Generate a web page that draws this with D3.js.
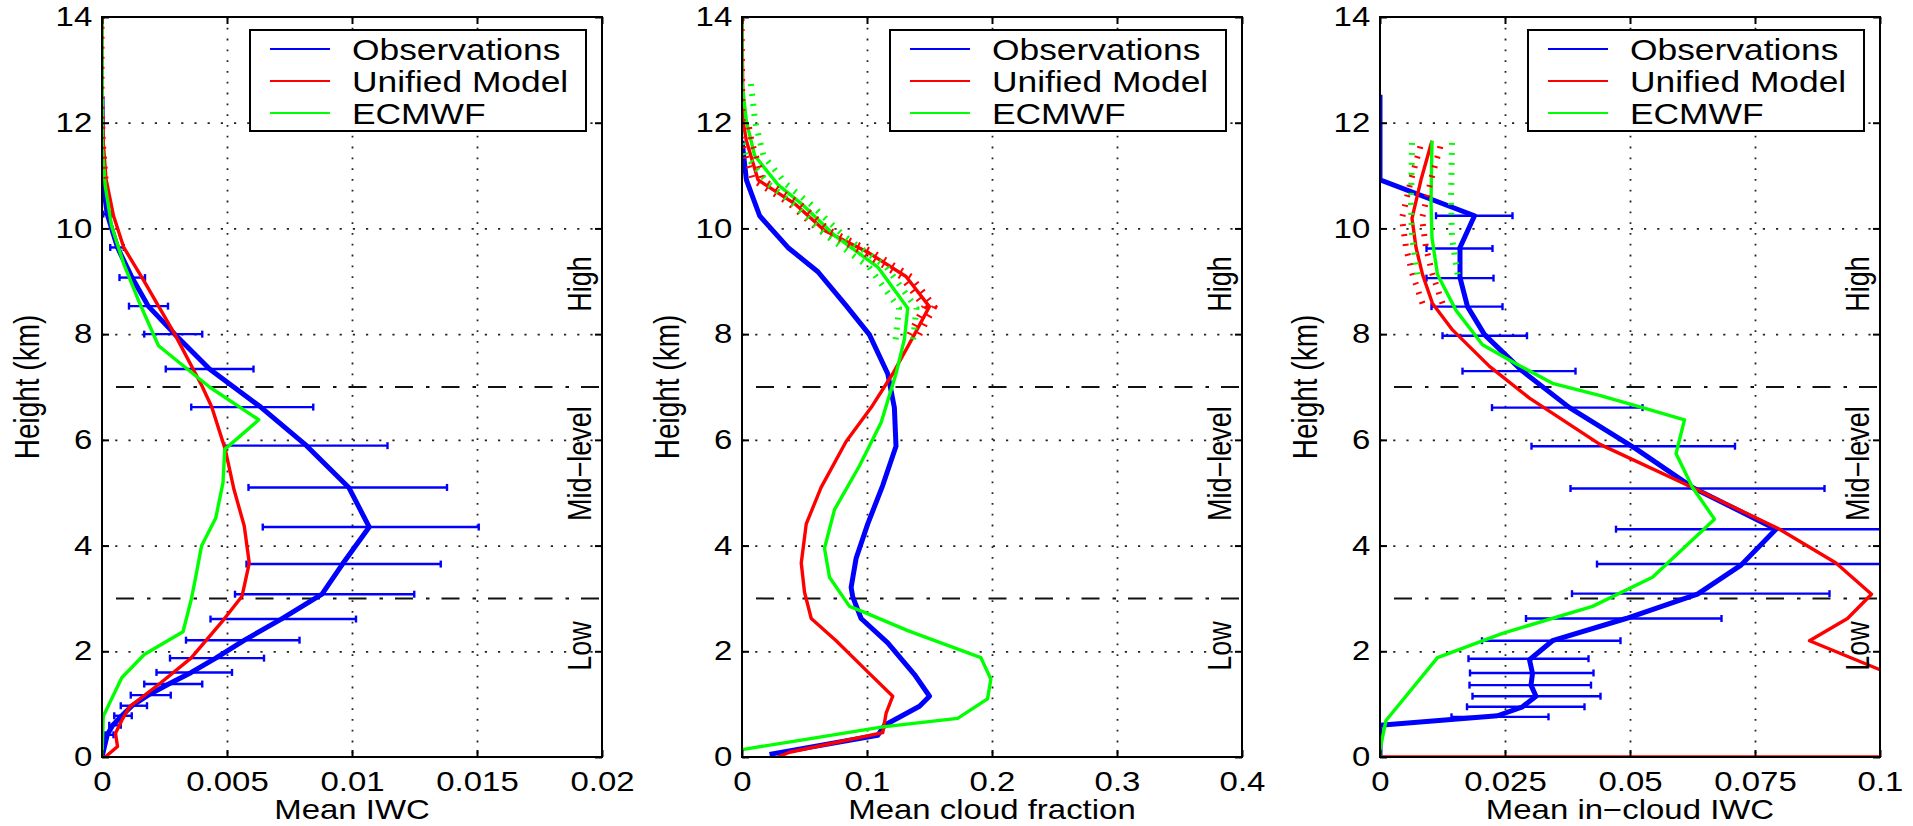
<!DOCTYPE html>
<html>
<head>
<meta charset="utf-8">
<script src="https://cdn.jsdelivr.net/npm/d3@7"></script>
<style>
  html, body { margin: 0; padding: 0; background: #fff; }
  svg { display: block; }
  text { font-family: "Liberation Sans", Arial, Helvetica, sans-serif; fill: #000; }
</style>
</head>
<body>
<svg id="chart" width="1913" height="826"></svg>
<script>
// ---------------- data ----------------
// heights in km; profiles are [height, value]; error bars are [height, low, high]
const heightTicks = [0, 2, 4, 6, 8, 10, 12, 14];
const regionBounds = [3, 7];
const regionLabels = ["Low", "Mid\u2212level", "High"];
const regionLabelHeights = [2.1, 5.55, 8.95];
const seriesNames = ["Observations", "Unified Model", "ECMWF"];

// Mean IWC
const iwcTicks = [0, 0.005, 0.01, 0.015, 0.02];
const iwcTickLabels = ["0", "0.005", "0.01", "0.015", "0.02"];
const iwcObs = [[0,0],[0.42,0.00021],[0.6,0.00043],[0.78,0.00079],[0.97,0.0012],[1.17,0.00185],[1.38,0.00267],[1.6,0.00357],[1.87,0.00455],[2.21,0.0057],[2.61,0.00717],[3.08,0.0088],[3.65,0.00962],[4.35,0.01069],[5.1,0.00987],[5.89,0.00818],[6.62,0.00635],[7.34,0.0043],[8.0,0.00291],[8.53,0.00185],[9.07,0.0012],[9.64,0.00062],[10.27,0.00021],[10.9,0.00003],[12.5,0]];
const iwcObsErr = [[0.42,0.00013,0.00046],[0.6,0.00029,0.00075],[0.78,0.00049,0.00119],[0.97,0.00075,0.0018],[1.17,0.00115,0.00275],[1.38,0.00169,0.00401],[1.6,0.00218,0.0052],[1.87,0.00272,0.00648],[2.21,0.00336,0.0079],[2.61,0.00434,0.01016],[3.08,0.00532,0.01249],[3.65,0.00578,0.01355],[4.35,0.00643,0.01507],[5.1,0.00586,0.0138],[5.89,0.00489,0.01142],[6.62,0.00357,0.00845],[7.34,0.00255,0.00606],[8.0,0.00169,0.00401],[8.53,0.00108,0.00264],[9.07,0.0007,0.00172],[9.64,0.00033,0.00087],[10.27,0.00005,0.00038]];
const iwcUM = [[0,0.00013],[0.2,0.00062],[0.45,0.00054],[0.7,0.0008],[0.95,0.0011],[1.4,0.00234],[1.87,0.00356],[2.6,0.00487],[3.04,0.0056],[3.67,0.00589],[4.37,0.00569],[5.06,0.00528],[5.82,0.00493],[6.62,0.00439],[7.02,0.004],[8.0,0.00291],[8.53,0.00226],[9.0,0.00169],[9.64,0.00087],[10.24,0.00046],[10.94,0.00016],[11.63,0.00005],[12.5,0],[14,0]];
const iwcEC = [[0,0],[0.77,0.00005],[1.5,0.00079],[1.94,0.00169],[2.37,0.00324],[2.98,0.00357],[3.36,0.00373],[3.99,0.00398],[4.52,0.00455],[5.19,0.00484],[5.82,0.00491],[6.38,0.00627],[7.0,0.0043],[7.78,0.00226],[8.57,0.00152],[9.33,0.00087],[10.05,0.00038],[10.81,0.00013],[11.5,0.00002],[14,0]];

// Mean cloud fraction
const cfTicks = [0, 0.1, 0.2, 0.3, 0.4];
const cfTickLabels = ["0", "0.1", "0.2", "0.3", "0.4"];
const cfObs = [[0.05,0.022],[0.41,0.1086],[0.6,0.114],[0.96,0.142],[1.15,0.15],[1.56,0.138],[2.16,0.1166],[2.62,0.0953],[3.03,0.0886],[3.21,0.0873],[3.76,0.0913],[4.41,0.1006],[5.14,0.1126],[5.88,0.1232],[6.61,0.1219],[7.25,0.1166],[7.99,0.1019],[8.54,0.0833],[9.18,0.0607],[9.64,0.0367],[10.24,0.0141],[10.92,0.0035],[11.66,0]];
const cfUM = [[0,0.0287],[0.09,0.038],[0.46,0.1126],[0.83,0.1153],[1.15,0.1206],[1.61,0.1006],[2.2,0.0753],[2.62,0.0554],[3.12,0.05],[3.67,0.0474],[4.41,0.0514],[5.1,0.0633],[5.97,0.0833],[6.61,0.1033],[7.25,0.1206],[7.99,0.1379],[8.52,0.1499],[9.09,0.1312],[9.55,0.1006],[9.96,0.066],[10.47,0.042],[10.92,0.0128],[11.66,0.0035],[12.03,0.0008],[14,0]];
const cfEC = [[0.14,0],[0.32,0.0474],[0.57,0.1126],[0.73,0.1725],[1.1,0.1964],[1.47,0.1991],[1.88,0.1911],[2.39,0.1326],[2.75,0.0966],[2.85,0.086],[3.4,0.07],[3.95,0.066],[4.68,0.074],[5.51,0.094],[6.33,0.1113],[7.25,0.1232],[7.9,0.1299],[8.49,0.1326],[9.27,0.1086],[9.87,0.074],[10.47,0.0474],[10.83,0.0287],[11.38,0.0101],[12.03,0.0035],[12.76,0],[14,0]];

// Mean in-cloud IWC
const icTicks = [0, 0.025, 0.05, 0.075, 0.1];
const icTickLabels = ["0", "0.025", "0.05", "0.075", "0.1"];
const icObs = [[0,0],[0.6,0],[0.78,0.0235],[0.95,0.0285],[1.15,0.0312],[1.36,0.0302],[1.58,0.0305],[1.84,0.0299],[2.2,0.0345],[2.62,0.0492],[3.08,0.0635],[3.63,0.0722],[4.31,0.0792],[5.1,0.0625],[5.83,0.0512],[6.61,0.0379],[7.3,0.0285],[7.99,0.0209],[8.52,0.0175],[9.07,0.016],[9.64,0.016],[10.24,0.0189],[10.92,0],[12.53,0]];
const icObsErr = [[0.76,0.0143,0.0337],[0.95,0.0174,0.0409],[1.15,0.0185,0.0441],[1.36,0.0179,0.0422],[1.59,0.018,0.0427],[1.86,0.0177,0.0417],[2.2,0.0204,0.0481],[2.62,0.0292,0.0683],[3.09,0.0384,0.0899],[3.65,0.0434,0.101],[4.31,0.0472,0.111],[5.08,0.0381,0.0889],[5.88,0.0303,0.071],[6.61,0.0224,0.0525],[7.3,0.0165,0.0391],[7.97,0.0125,0.0294],[8.52,0.0103,0.0245],[9.06,0.0093,0.0227],[9.62,0.0093,0.0225],[10.24,0.0112,0.0265]];
const icUM = [[0,0],[0,0.15],[1.0,0.12],[1.65,0.1],[2.2,0.0859],[2.62,0.0935],[3.08,0.0983],[3.67,0.0912],[4.31,0.0799],[5.1,0.0625],[5.92,0.0439],[6.79,0.0299],[7.39,0.0219],[8.08,0.0145],[8.58,0.0105],[9.13,0.0085],[9.64,0.0072],[10.19,0.0064],[10.92,0.0082],[11.66,0.0104]];
const icEC = [[0,0],[0.14,0],[0.69,0.0012],[1.88,0.0115],[2.34,0.0245],[2.85,0.0425],[3.4,0.0545],[4.5,0.0669],[5.1,0.0625],[5.74,0.0592],[6.38,0.0609],[6.61,0.0525],[6.84,0.0439],[7.07,0.0345],[7.44,0.0272],[7.8,0.0205],[8.45,0.0152],[9.13,0.0115],[9.82,0.0104],[10.51,0.0102],[11.66,0.0104]];

// model spread marks: [series key, spread, lowest height, highest height]
const iwcSpread = [["um", 0, 10.9, 14]];
const cfSpread = [["um", 0.004, 7.9, 12.1], ["ec", 0.007, 7.9, 12.8], ["um", 0, 12.0, 14]];
const icSpread = [["um", 0.002, 8.5, 11.7], ["ec", 0.004, 8.5, 11.7]];

// ---------------- layout ----------------
const panelLefts = [102, 742, 1380];
const panelWidth = 500;
const panelTop = 17, panelBottom = 757;
const STRETCH = 1.22;
const colors = { obs: "#0000ff", um: "#ff0000", ec: "#00ff00" };
const widths = { obs: 5, um: 3.4, ec: 3.4 };

const panels = [
  { ticks: iwcTicks, labels: iwcTickLabels, title: "Mean IWC", obs: iwcObs, err: iwcObsErr, um: iwcUM, ec: iwcEC, spread: iwcSpread },
  { ticks: cfTicks, labels: cfTickLabels, title: "Mean cloud fraction", obs: cfObs, err: [], um: cfUM, ec: cfEC, spread: cfSpread },
  { ticks: icTicks, labels: icTickLabels, title: "Mean in\u2212cloud IWC", obs: icObs, err: icObsErr, um: icUM, ec: icEC, spread: icSpread }
];

const svg = d3.select("#chart");
const fontFamily = '"Liberation Sans", Arial, Helvetica, sans-serif';

function stretched(sel, tx, ty, rotate) {
  return sel.attr("transform", `translate(${tx},${ty}) scale(${STRETCH},1)` + (rotate ? ` rotate(${rotate})` : ""));
}

panels.forEach((p, i) => {
  const left = panelLefts[i];
  const pw = panelWidth, ph = panelBottom - panelTop;
  const x = d3.scaleLinear().domain([p.ticks[0], p.ticks[p.ticks.length - 1]]).range([0, pw]);
  const y = d3.scaleLinear().domain([heightTicks[0], heightTicks[heightTicks.length - 1]]).range([ph, 0]);
  const g = svg.append("g").attr("transform", `translate(${left},${panelTop})`);

  const clipId = "plotclip" + i;
  g.append("clipPath").attr("id", clipId).append("rect").attr("width", pw).attr("height", ph);

  // dotted grid
  g.append("g")
    .call(d3.axisBottom(x).tickValues(p.ticks.slice(1, -1)).tickSize(ph).tickFormat(""))
    .call(s => s.select(".domain").remove())
    .selectAll("line")
    .attr("stroke", "#222").attr("stroke-width", 1.8).attr("stroke-dasharray", "1.8,9");
  g.append("g")
    .call(d3.axisRight(y).tickValues(heightTicks.slice(1, -1)).tickSize(pw).tickFormat(""))
    .call(s => s.select(".domain").remove())
    .selectAll("line")
    .attr("stroke", "#222").attr("stroke-width", 1.8).attr("stroke-dasharray", "2.2,11");

  // cloud-level boundaries
  g.selectAll("line.bound").data(regionBounds).join("line")
    .attr("class", "bound")
    .attr("x1", 14).attr("x2", pw)
    .attr("y1", d => y(d)).attr("y2", d => y(d))
    .attr("stroke", "#111").attr("stroke-width", 2)
    .attr("stroke-dasharray", "18,13,3.5,12");

  const plot = g.append("g").attr("clip-path", `url(#${clipId})`);
  const line = d3.line().x(d => x(d[1])).y(d => y(d[0]));

  // observations with error bars
  plot.append("path").datum(p.obs).attr("d", line)
    .attr("fill", "none").attr("stroke", colors.obs).attr("stroke-width", widths.obs)
    .attr("stroke-linejoin", "round");
  const eb = plot.append("g").attr("stroke", colors.obs).attr("stroke-width", 2.4);
  eb.selectAll("line.bar").data(p.err).join("line").attr("class", "bar")
    .attr("x1", d => x(d[1])).attr("x2", d => x(d[2]))
    .attr("y1", d => y(d[0])).attr("y2", d => y(d[0]));
  eb.selectAll("line.capl").data(p.err).join("line").attr("class", "capl")
    .attr("x1", d => x(d[1])).attr("x2", d => x(d[1]))
    .attr("y1", d => y(d[0]) - 3.5).attr("y2", d => y(d[0]) + 3.5);
  eb.selectAll("line.caph").data(p.err).join("line").attr("class", "caph")
    .attr("x1", d => x(d[2])).attr("x2", d => x(d[2]))
    .attr("y1", d => y(d[0]) - 3.5).attr("y2", d => y(d[0]) + 3.5);

  // models
  ["um", "ec"].forEach(k => {
    plot.append("path").datum(p[k]).attr("d", line)
      .attr("fill", "none").attr("stroke", colors[k]).attr("stroke-width", widths[k])
      .attr("stroke-linejoin", "round");
  });

  // model spread marks
  p.spread.forEach(([k, s, h0, h1]) => {
    const pts = p[k].filter(d => d[0] >= h0 && d[0] <= h1);
    const offsets = s === 0 ? [0] : [-s, s];
    offsets.forEach(o => {
      plot.append("path").datum(pts)
        .attr("d", d3.line().x(d => x(d[1] + o)).y(d => y(d[0])))
        .attr("fill", "none").attr("stroke", colors[k])
        .attr("stroke-width", s === 0 ? 5 : 6)
        .attr("stroke-dasharray", "2,8");
    });
  });

  // frame
  g.append("rect").attr("width", pw).attr("height", ph)
    .attr("fill", "none").attr("stroke", "#000").attr("stroke-width", 2);

  const styleAxis = s => {
    s.select(".domain").remove();
    s.attr("font-family", fontFamily).attr("font-size", 27);
    s.selectAll(".tick line").attr("stroke", "#000").attr("stroke-width", 2);
  };

  // left axis with labels
  g.append("g")
    .call(d3.axisLeft(y).tickValues(heightTicks).tickFormat(d3.format("d")).tickSize(-7).tickSizeOuter(0).tickPadding(8))
    .call(styleAxis)
    .selectAll("text").attr("fill", "#000").attr("transform", `scale(${STRETCH},1)`);
  // right axis ticks
  g.append("g").attr("transform", `translate(${pw},0)`)
    .call(d3.axisRight(y).tickValues(heightTicks).tickFormat("").tickSize(-7).tickSizeOuter(0))
    .call(styleAxis);
  // bottom axis with labels
  g.append("g").attr("transform", `translate(0,${ph})`)
    .call(d3.axisBottom(x).tickValues(p.ticks).tickFormat((d, j) => p.labels[j]).tickSize(-7).tickSizeOuter(0).tickPadding(15))
    .call(styleAxis)
    .selectAll("text").attr("fill", "#000").attr("transform", `scale(${STRETCH},1)`);
  // top axis ticks
  g.append("g")
    .call(d3.axisTop(x).tickValues(p.ticks).tickFormat("").tickSize(-7).tickSizeOuter(0))
    .call(styleAxis);

  // cloud-level names
  regionLabels.forEach((t, j) => {
    stretched(g.append("text"), pw - 11, y(regionLabelHeights[j]), -90)
      .attr("text-anchor", "middle").attr("font-size", 27).text(t);
  });

  // axis titles
  stretched(g.append("text"), pw / 2, 819 - panelTop)
    .attr("text-anchor", "middle").attr("font-size", 27).text(p.title);
  stretched(g.append("text"), -63, ph / 2, -90)
    .attr("text-anchor", "middle").attr("font-size", 28).text("Height (km)");

  // legend
  const lgW = 336, lgH = 101;
  const lg = g.append("g").attr("transform", `translate(${pw - 16 - lgW},${30 - panelTop})`);
  lg.append("rect").attr("width", lgW).attr("height", lgH)
    .attr("fill", "#fff").attr("stroke", "#000").attr("stroke-width", 2);
  ["obs", "um", "ec"].forEach((k, j) => {
    const ly = 19 + j * 32;
    lg.append("line").attr("x1", 20).attr("x2", 80).attr("y1", ly).attr("y2", ly)
      .attr("stroke", colors[k]).attr("stroke-width", 2);
    stretched(lg.append("text"), 102, ly + 11).attr("font-size", 29).text(seriesNames[j]);
  });
});
</script>
</body>
</html>
